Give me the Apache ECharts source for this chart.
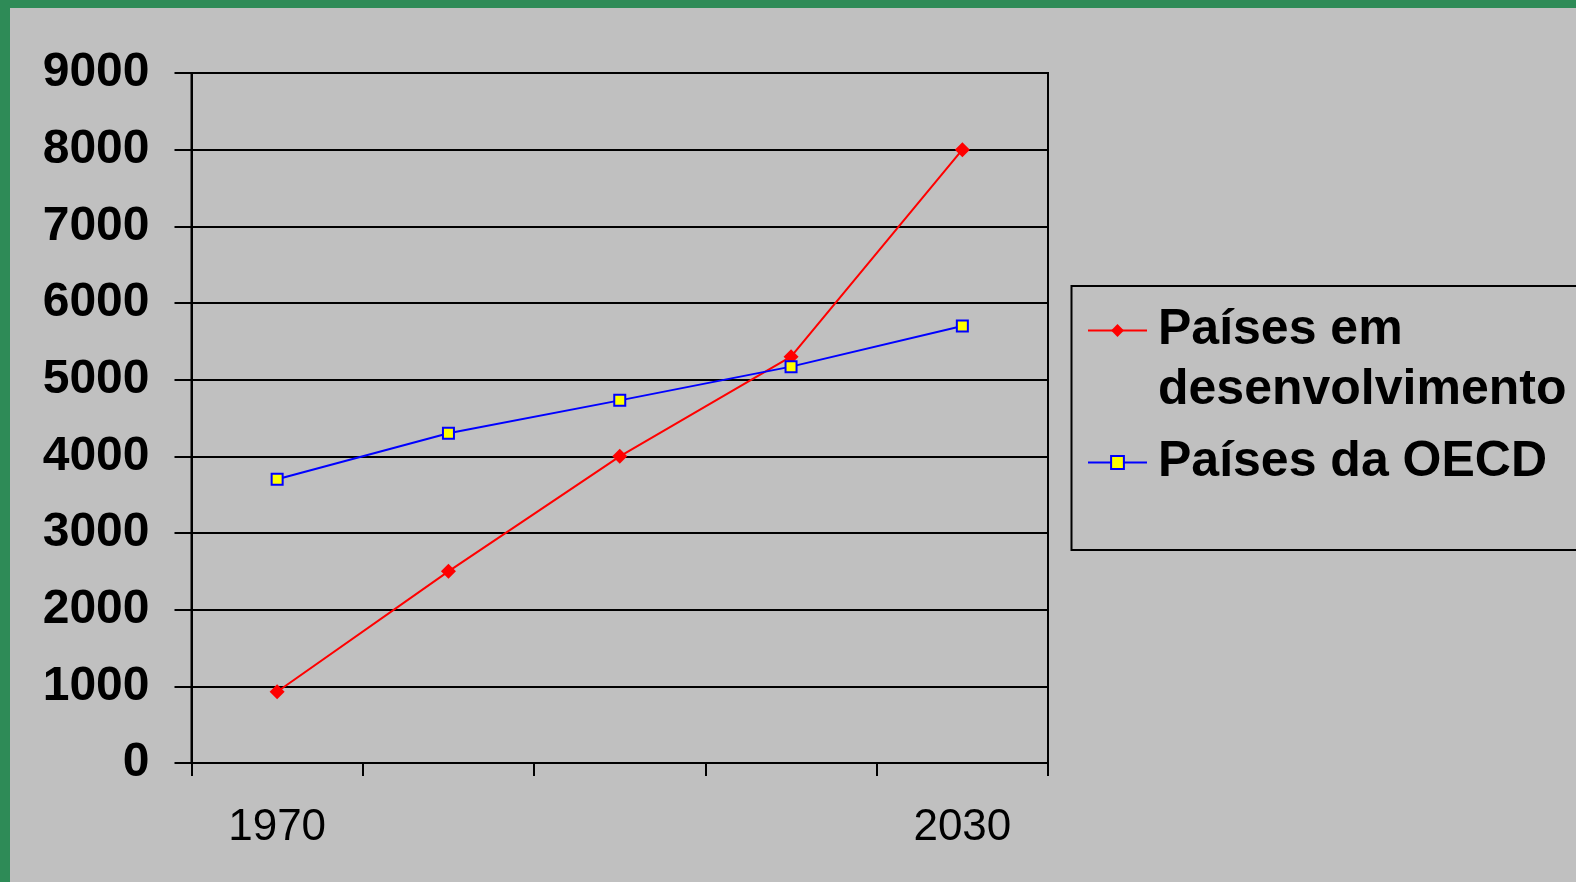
<!DOCTYPE html>
<html>
<head>
<meta charset="utf-8">
<script src="https://cdn.jsdelivr.net/npm/echarts@6/dist/echarts.min.js"></script>
<style>
  html, body { margin: 0; padding: 0; }
  body { width: 1576px; height: 882px; background: #2E8B57; position: relative; overflow: hidden; }
  #chart { position: absolute; left: 10px; top: 8px; width: 1566px; height: 874px; }
</style>
</head>
<body>
<div id="chart"></div>
<script>
// Period categories (only the first and last are labelled on the axis)
const years = ['1970', '1985', '2000', '2015', '2030'];
const shownYearIndexes = [0, 4];

// Series values
const developingName = 'Países em desenvolvimento';
const developingValues = [930, 2500, 4000, 5300, 8000];
const oecdName = 'Países da OECD';
const oecdValues = [3700, 4300, 4730, 5170, 5700];

// Value axis range
const yMin = 0;
const yMax = 9000;
const yStep = 1000;

const FONT = "'Liberation Sans', Arial, Helvetica, sans-serif";
const LEGEND_LINE = 60;

const chart = echarts.init(document.getElementById('chart'), null, { renderer: 'canvas' });

chart.setOption({
  animation: false,
  backgroundColor: '#C0C0C0',
  textStyle: { fontFamily: FONT, color: '#000' },
  grid: {
    left: 181.5,
    top: 65,
    right: 528,
    bottom: 119,
    show: true,
    borderColor: '#000',
    borderWidth: 2,
    backgroundColor: 'transparent'
  },
  xAxis: {
    type: 'category',
    data: years,
    boundaryGap: true,
    axisLine: { show: true, lineStyle: { color: '#000', width: 2 } },
    axisTick: {
      show: true,
      interval: 0,
      alignWithLabel: false,
      inside: false,
      length: 13,
      lineStyle: { color: '#000', width: 2 }
    },
    axisLabel: {
      interval: function (index) { return shownYearIndexes.indexOf(index) !== -1; },
      margin: 43,
      fontSize: 44,
      fontFamily: FONT,
      color: '#000'
    },
    splitLine: { show: false }
  },
  yAxis: {
    type: 'value',
    min: yMin,
    max: yMax,
    interval: yStep,
    axisLine: { show: true, lineStyle: { color: '#000', width: 2 } },
    axisTick: { show: true, inside: false, length: 17, lineStyle: { color: '#000', width: 2 } },
    axisLabel: {
      margin: 42,
      fontSize: 48,
      fontWeight: 'bold',
      fontFamily: FONT,
      color: '#000',
      padding: [4, 0, 0, 0],
      formatter: function (value) { return String(value); }
    },
    splitLine: { show: true, lineStyle: { color: '#000', width: 2 } }
  },
  legend: {
    orient: 'vertical',
    left: 1077,
    top: 232.5,
    padding: 0,
    itemWidth: 59,
    itemHeight: 16,
    itemGap: 12,
    textStyle: {
      fontFamily: FONT,
      fontSize: 50,
      fontWeight: 'bold',
      color: '#000',
      lineHeight: LEGEND_LINE,
      padding: [0, 0, 0, 6],
      rich: {
        gap: { fontSize: 50, lineHeight: LEGEND_LINE, height: LEGEND_LINE },
        t: { fontFamily: FONT, fontSize: 50, fontWeight: 'bold', color: '#000', lineHeight: LEGEND_LINE, height: LEGEND_LINE }
      }
    },
    // The first entry wraps onto two lines; an empty leading row keeps its
    // first line level with the icon.
    formatter: function (name) {
      return name === developingName
        ? '{gap| }\n{t|Países em}\n{t|desenvolvimento}'
        : name;
    },
    data: [developingName, oecdName]
  },
  graphic: [
    {
      type: 'rect',
      silent: true,
      shape: { x: 1061.5, y: 278, width: 700, height: 264 },
      style: { fill: 'none', stroke: '#000', lineWidth: 2 }
    }
  ],
  series: [
    {
      name: developingName,
      type: 'line',
      data: developingValues,
      symbol: 'diamond',
      symbolSize: 15,
      showAllSymbol: true,
      lineStyle: { color: '#FF0000', width: 2 },
      itemStyle: { color: '#FF0000' },
      emphasis: { disabled: true }
    },
    {
      name: oecdName,
      type: 'line',
      data: oecdValues,
      symbol: 'rect',
      symbolSize: 11,
      showAllSymbol: true,
      lineStyle: { color: '#0000FF', width: 2 },
      itemStyle: { color: '#FFFF00', borderColor: '#0000FF', borderWidth: 2 },
      emphasis: { disabled: true }
    }
  ]
});
</script>
</body>
</html>
